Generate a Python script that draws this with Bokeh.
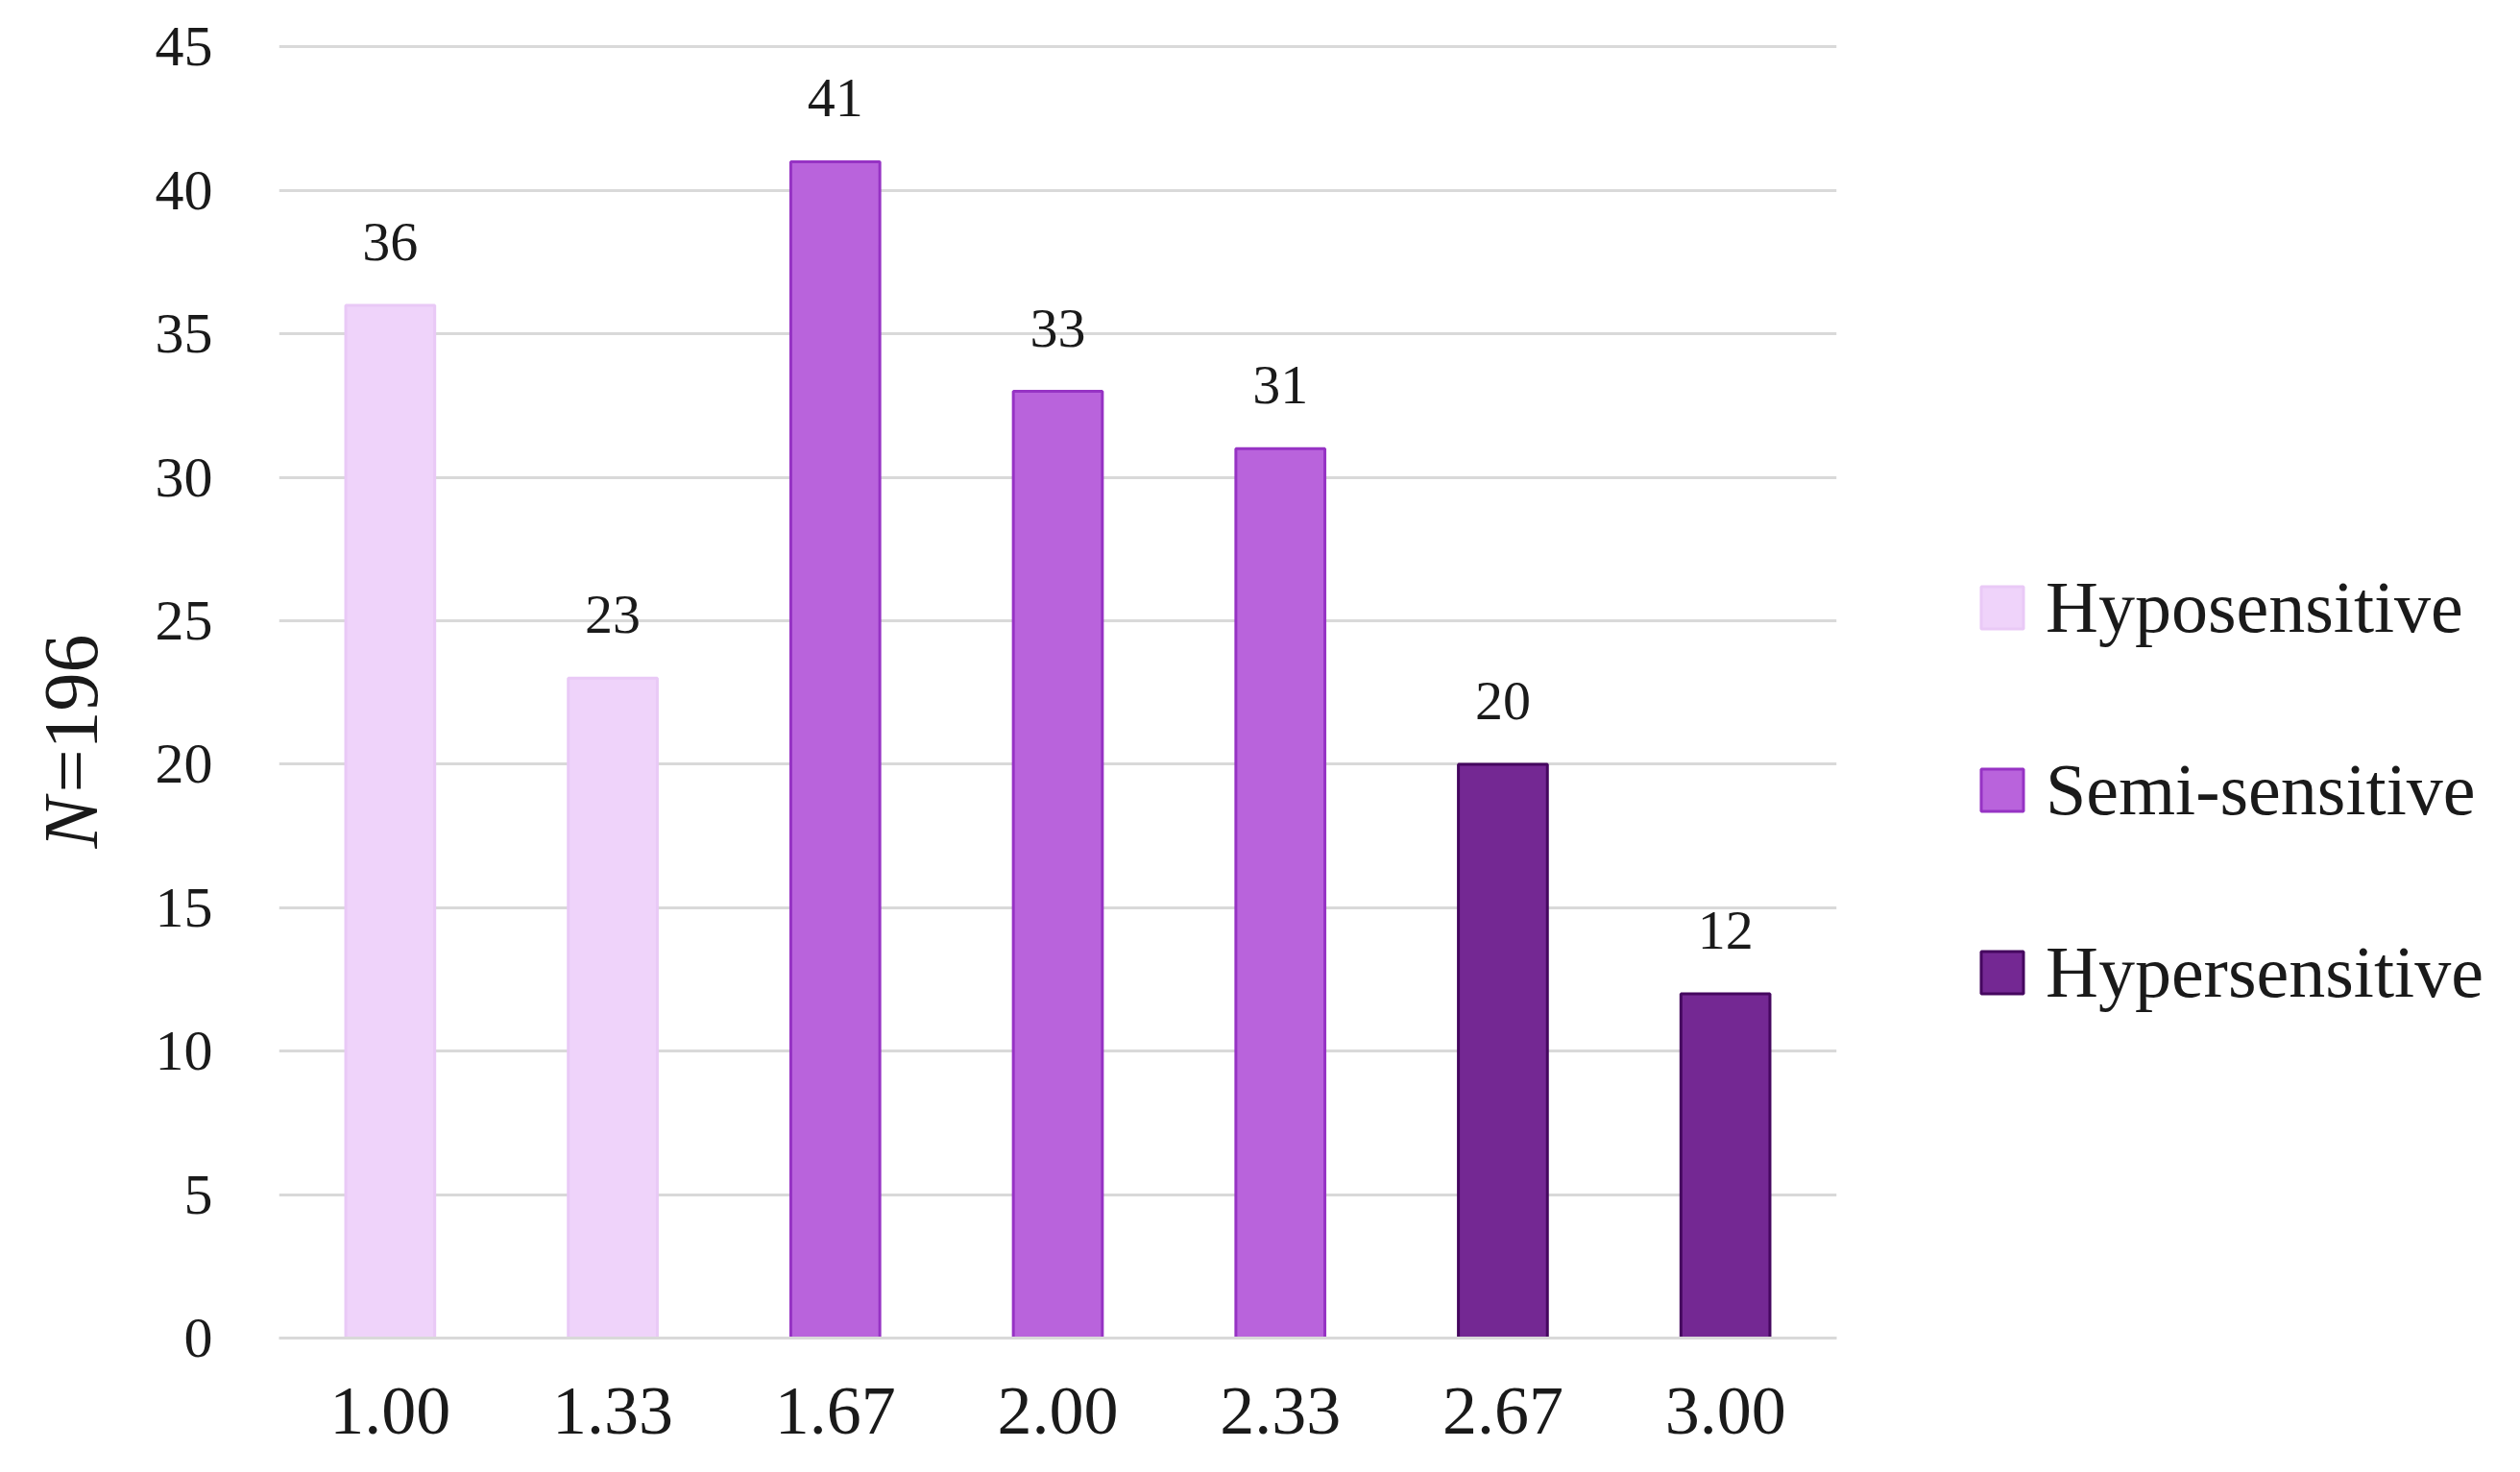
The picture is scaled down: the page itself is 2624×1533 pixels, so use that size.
from bokeh.plotting import figure
from bokeh.models import ColumnDataSource, Legend, LegendItem, FixedTicker, Range1d, FactorRange
from bokeh.layouts import row
from bokeh.embed import file_html
from bokeh.resources import INLINE
from bokeh.core.properties import value
import math

# ---- data ----
categories = ["1.00", "1.33", "1.67", "2.00", "2.33", "2.67", "3.00"]
counts = [36, 23, 41, 33, 31, 20, 12]
groups = ["Hyposensitive", "Hyposensitive", "Semi-sensitive", "Semi-sensitive",
          "Semi-sensitive", "Hypersensitive", "Hypersensitive"]
group_order = ["Hyposensitive", "Semi-sensitive", "Hypersensitive"]
y_ticks = [0, 5, 10, 15, 20, 25, 30, 35, 40, 45]
y_label_parts = ["N", "=196"]

# ---- styles ----
fill_colors = {"Hyposensitive": "#EFD3FA", "Semi-sensitive": "#B963DC", "Hypersensitive": "#742893"}
line_colors = {"Hyposensitive": "#E9C9F6", "Semi-sensitive": "#9633C4", "Hypersensitive": "#45075F"}
SERIF = "Liberation Serif"
TXT = "#1a1a1a"

H = 1530
LW = 158            # y-label strip width
MW = 1804           # main chart width
RW = 2608 - LW - MW # legend strip width
BORDER_TOP, BORDER_BOTTOM = 44, 137
Y_END = 45.15

y_range = Range1d(0, Y_END)
px_per_unit = (H - BORDER_TOP - BORDER_BOTTOM) / Y_END


def strip(width, x_range):
    f = figure(width=width, height=H, x_range=x_range, y_range=y_range,
               x_axis_type=None, y_axis_type=None,
               output_backend="svg", toolbar_location=None,
               min_border_left=0, min_border_right=0,
               min_border_top=BORDER_TOP, min_border_bottom=BORDER_BOTTOM)
    f.grid.visible = False
    f.outline_line_color = None
    return f


# ---- y-axis label strip (italic N + "=196") ----
pl = strip(LW, Range1d(0, LW))
n_base = 510 / px_per_unit            # bottom end of the rotated label, 510 px above the baseline
lab_src = ColumnDataSource(dict(x=[73, 73], y=[n_base, n_base + 58 / px_per_unit],
                                t=y_label_parts, st=["italic", "normal"]))
pl.text(x="x", y="y", text="t", source=lab_src, angle=math.pi / 2,
        text_align="left", text_baseline="middle", text_font=value(SERIF),
        text_font_size="80px", text_font_style="st", text_color=TXT)

# ---- main chart ----
p = figure(x_range=categories, y_range=y_range, width=MW, height=H,
           output_backend="svg", toolbar_location=None,
           min_border_left=132, min_border_right=50,
           min_border_top=BORDER_TOP, min_border_bottom=BORDER_BOTTOM)
p.outline_line_color = None

group_sources = {}
for g in group_order:
    xs = [c for c, gg in zip(categories, groups) if gg == g]
    ys = [v for v, gg in zip(counts, groups) if gg == g]
    src = ColumnDataSource(dict(x=xs, top=ys, lab=[str(v) for v in ys]))
    group_sources[g] = src
    p.vbar(x="x", top="top", bottom=0, width=0.4, source=src,
           fill_color=fill_colors[g], line_color=line_colors[g], line_width=3)
    p.text(x="x", y="top", text="lab", source=src, y_offset=-66,
           text_align="center", text_baseline="middle",
           text_font=value(SERIF), text_font_size="58px", text_color=TXT)

p.xgrid.grid_line_color = None
p.ygrid.grid_line_color = "#D9D9D9"
p.ygrid.grid_line_width = 3
p.yaxis.ticker = FixedTicker(ticks=y_ticks)

p.yaxis.axis_line_color = None
p.yaxis.major_tick_line_color = None
p.yaxis.minor_tick_line_color = None
p.yaxis.major_label_standoff = 63
p.yaxis.major_label_text_font = SERIF
p.yaxis.major_label_text_font_size = "60px"
p.yaxis.major_label_text_color = TXT

p.xaxis.axis_line_color = "#D9D9D9"
p.xaxis.axis_line_width = 3
p.xaxis.major_tick_line_color = None
p.xaxis.minor_tick_line_color = None
p.xaxis.major_label_standoff = 46
p.xaxis.major_label_text_font = SERIF
p.xaxis.major_label_text_font_size = "72px"
p.xaxis.major_label_text_color = TXT

# ---- legend strip (hidden copies of the bar renderers provide the keys) ----
pr = strip(RW, FactorRange(factors=categories))
items = []
for g in group_order:
    r = pr.vbar(x="x", top="top", bottom=0, width=0.4, source=group_sources[g],
                fill_color=fill_colors[g], line_color=line_colors[g], line_width=3,
                visible=False)
    items.append(LegendItem(label=g, renderers=[r]))
legend = Legend(items=items, location=(95, 337), orientation="vertical",
                glyph_width=55, glyph_height=55, label_standoff=18,
                label_text_font=SERIF, label_text_font_size="76px", label_text_color=TXT,
                spacing=103, padding=0, margin=0,
                inactive_fill_alpha=0, click_policy="none",
                border_line_color=None, background_fill_alpha=0)
pr.add_layout(legend, "center")

layout = row(pl, p, pr)
open("out.html", "w").write(file_html(layout, INLINE))
